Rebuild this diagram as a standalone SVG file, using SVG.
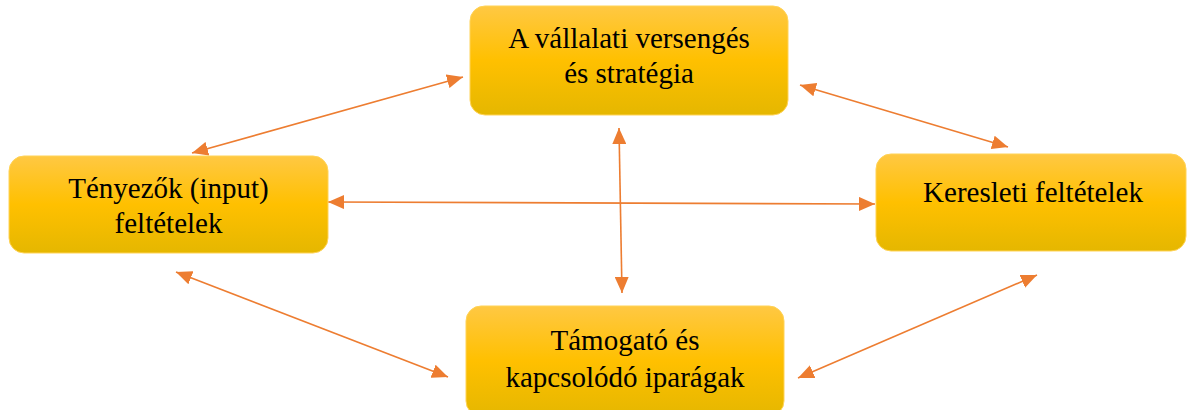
<svg xmlns="http://www.w3.org/2000/svg" width="1187" height="410" viewBox="0 0 1187 410">
<style>
.box{fill:url(#g);stroke:#FFD357;stroke-width:1}
.t{font-family:"Liberation Serif","Times New Roman",serif;font-size:29px;fill:#000;text-anchor:middle}
.c{stroke:#ED7D31;stroke-width:1.6;fill:none;marker-start:url(#ah);marker-end:url(#ah)}
</style>
<defs>
<linearGradient id="g" x1="0" y1="0" x2="0" y2="1">
<stop offset="0" stop-color="#FFC843"/>
<stop offset="0.5" stop-color="#FFC000"/>
<stop offset="1" stop-color="#E5B700"/>
</linearGradient>
<marker id="ah" viewBox="0 0 10 10" refX="10" refY="5" markerWidth="16" markerHeight="14" markerUnits="userSpaceOnUse" orient="auto-start-reverse" preserveAspectRatio="none">
<path d="M0,0 L10,5 L0,10 Z" fill="#ED7D31"/>
</marker>
</defs>
<rect width="1187" height="410" fill="#fff"/>
<g id="connectors">
<line class="c" x1="192" y1="153" x2="463" y2="77"/>
<line class="c" x1="800" y1="85" x2="1008" y2="147"/>
<line class="c" x1="176" y1="272" x2="448" y2="377"/>
<line class="c" x1="1037" y1="275" x2="798" y2="378"/>
<line class="c" x1="328" y1="202" x2="875" y2="204"/>
<line class="c" x1="619" y1="128" x2="622" y2="293"/>
</g>
<g id="node-top">
<rect class="box" x="470" y="6" width="318" height="109" rx="15"/>
<text class="t" x="629" y="48">A vállalati versengés</text>
<text class="t" x="629" y="83">és stratégia</text>
</g>
<g id="node-left">
<rect class="box" x="9" y="156" width="319" height="97" rx="15"/>
<text class="t" x="168.5" y="198">Tényezők (input)</text>
<text class="t" x="168.5" y="233">feltételek</text>
</g>
<g id="node-right">
<rect class="box" x="876" y="154" width="310" height="97" rx="15"/>
<text class="t" x="1033" y="202">Keresleti feltételek</text>
</g>
<g id="node-bottom">
<rect class="box" x="466" y="306" width="318" height="110" rx="15"/>
<text class="t" x="625" y="350">Támogató és</text>
<text class="t" x="625" y="387">kapcsolódó iparágak</text>
</g>
</svg>
